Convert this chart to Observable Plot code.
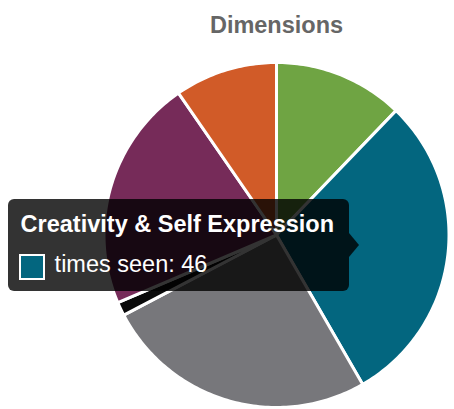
<!DOCTYPE html>
<html><head><meta charset="utf-8">
<script src="https://cdn.jsdelivr.net/npm/d3@7"></script>
<script src="https://cdn.jsdelivr.net/npm/@observablehq/plot@0.6"></script>
<style>
body{margin:0;background:#fff;font-family:"Liberation Sans",Arial,Helvetica,sans-serif;}
#wrap{position:relative;width:454px;height:409px;overflow:hidden;}
.tip{position:absolute;background:rgba(0,0,0,0.8);border-radius:6px;color:#fff;}
.tip .caret{position:absolute;width:0;height:0;border-top:12px solid transparent;border-bottom:12px solid transparent;border-left:10px solid rgba(0,0,0,0.8);}
.tip .ttl{position:absolute;font-weight:bold;font-size:23.5px;line-height:27px;white-space:nowrap;}
.tip .body{position:absolute;font-size:23.5px;line-height:27px;white-space:nowrap;}
.tip .sw{position:absolute;box-sizing:border-box;border:2px solid #fff;}
</style></head><body><div id="wrap"></div>
<script>
const title = "Dimensions";
const categories = ["Health & Wellbeing", "Creativity & Self Expression", "Relationships & Community", "Spirituality", "Career & Purpose", "Personal Growth"];
const values = [19, 46, 40, 2, 34, 15];
const colors = ["#6fa443", "#03667f", "#77777b", "#0a0a0a", "#762b59", "#d15b28"];
const highlighted = "Creativity & Self Expression";
const tooltipLabel = "times seen";

const arcs = d3.pie().sort(null).value(d => d)(values);
const pts = [];
arcs.forEach((a, i) => {
  const name = categories[i];
  pts.push({name, x: 0, y: 0});
  const n = Math.max(2, Math.ceil((a.endAngle - a.startAngle) / (Math.PI / 180)));
  for (let k = 0; k <= n; k++) {
    const t = a.startAngle + (a.endAngle - a.startAngle) * k / n;
    pts.push({name, x: Math.sin(t), y: Math.cos(t)});
  }
});

const W = 454, H = 409, R = 172.5, cx = 276, cy = 234.5;
const plot = Plot.plot({
  width: W, height: H,
  marginLeft: cx - R, marginRight: W - (cx + R), marginTop: cy - R, marginBottom: H - (cy + R),
  x: {domain: [-1, 1], axis: null},
  y: {domain: [-1, 1], axis: null},
  color: {domain: categories, range: colors},
  style: {background: "transparent", overflow: "visible", fontFamily: "'Liberation Sans', Arial, sans-serif"},
  marks: [
    Plot.line(pts, {x: "x", y: "y", z: "name", fill: "name", stroke: "white", strokeWidth: 3, curve: "linear-closed", strokeLinejoin: "round"}),
    Plot.text([title], {frameAnchor: "top", dy: -30, lineAnchor: "bottom", text: d => d, fontSize: 23.5, fontWeight: "bold", fill: "#666"})
  ]
});
const wrap = document.getElementById("wrap");
wrap.appendChild(plot);

// tooltip anchored at the centroid of the highlighted slice
const hi = categories.indexOf(highlighted);
const a = arcs[hi];
const mid = (a.startAngle + a.endAngle) / 2;
const px = plot.scale("x").apply(0.5 * Math.sin(mid));
const py = plot.scale("y").apply(0.5 * Math.cos(mid));
const tipX = px - 3, tipY = py, bw = 341, bh = 92;
const tip = document.createElement("div");
tip.className = "tip";
tip.style.left = (tipX - 10 - bw) + "px";
tip.style.top = (tipY - bh / 2) + "px";
tip.style.width = bw + "px";
tip.style.height = bh + "px";
tip.innerHTML = `<div class="caret" style="left:${bw}px;top:${bh/2-12}px"></div>
<div class="ttl" style="left:13px;top:12px"></div>
<div class="sw" style="left:11px;top:55px;width:26px;height:26px;background:${colors[hi]}"></div>
<div class="body" style="left:47px;top:52px"></div>`;
tip.querySelector(".ttl").textContent = highlighted;
tip.querySelector(".body").textContent = `${tooltipLabel}: ${values[hi]}`;
wrap.appendChild(tip);
</script>
</body></html>
